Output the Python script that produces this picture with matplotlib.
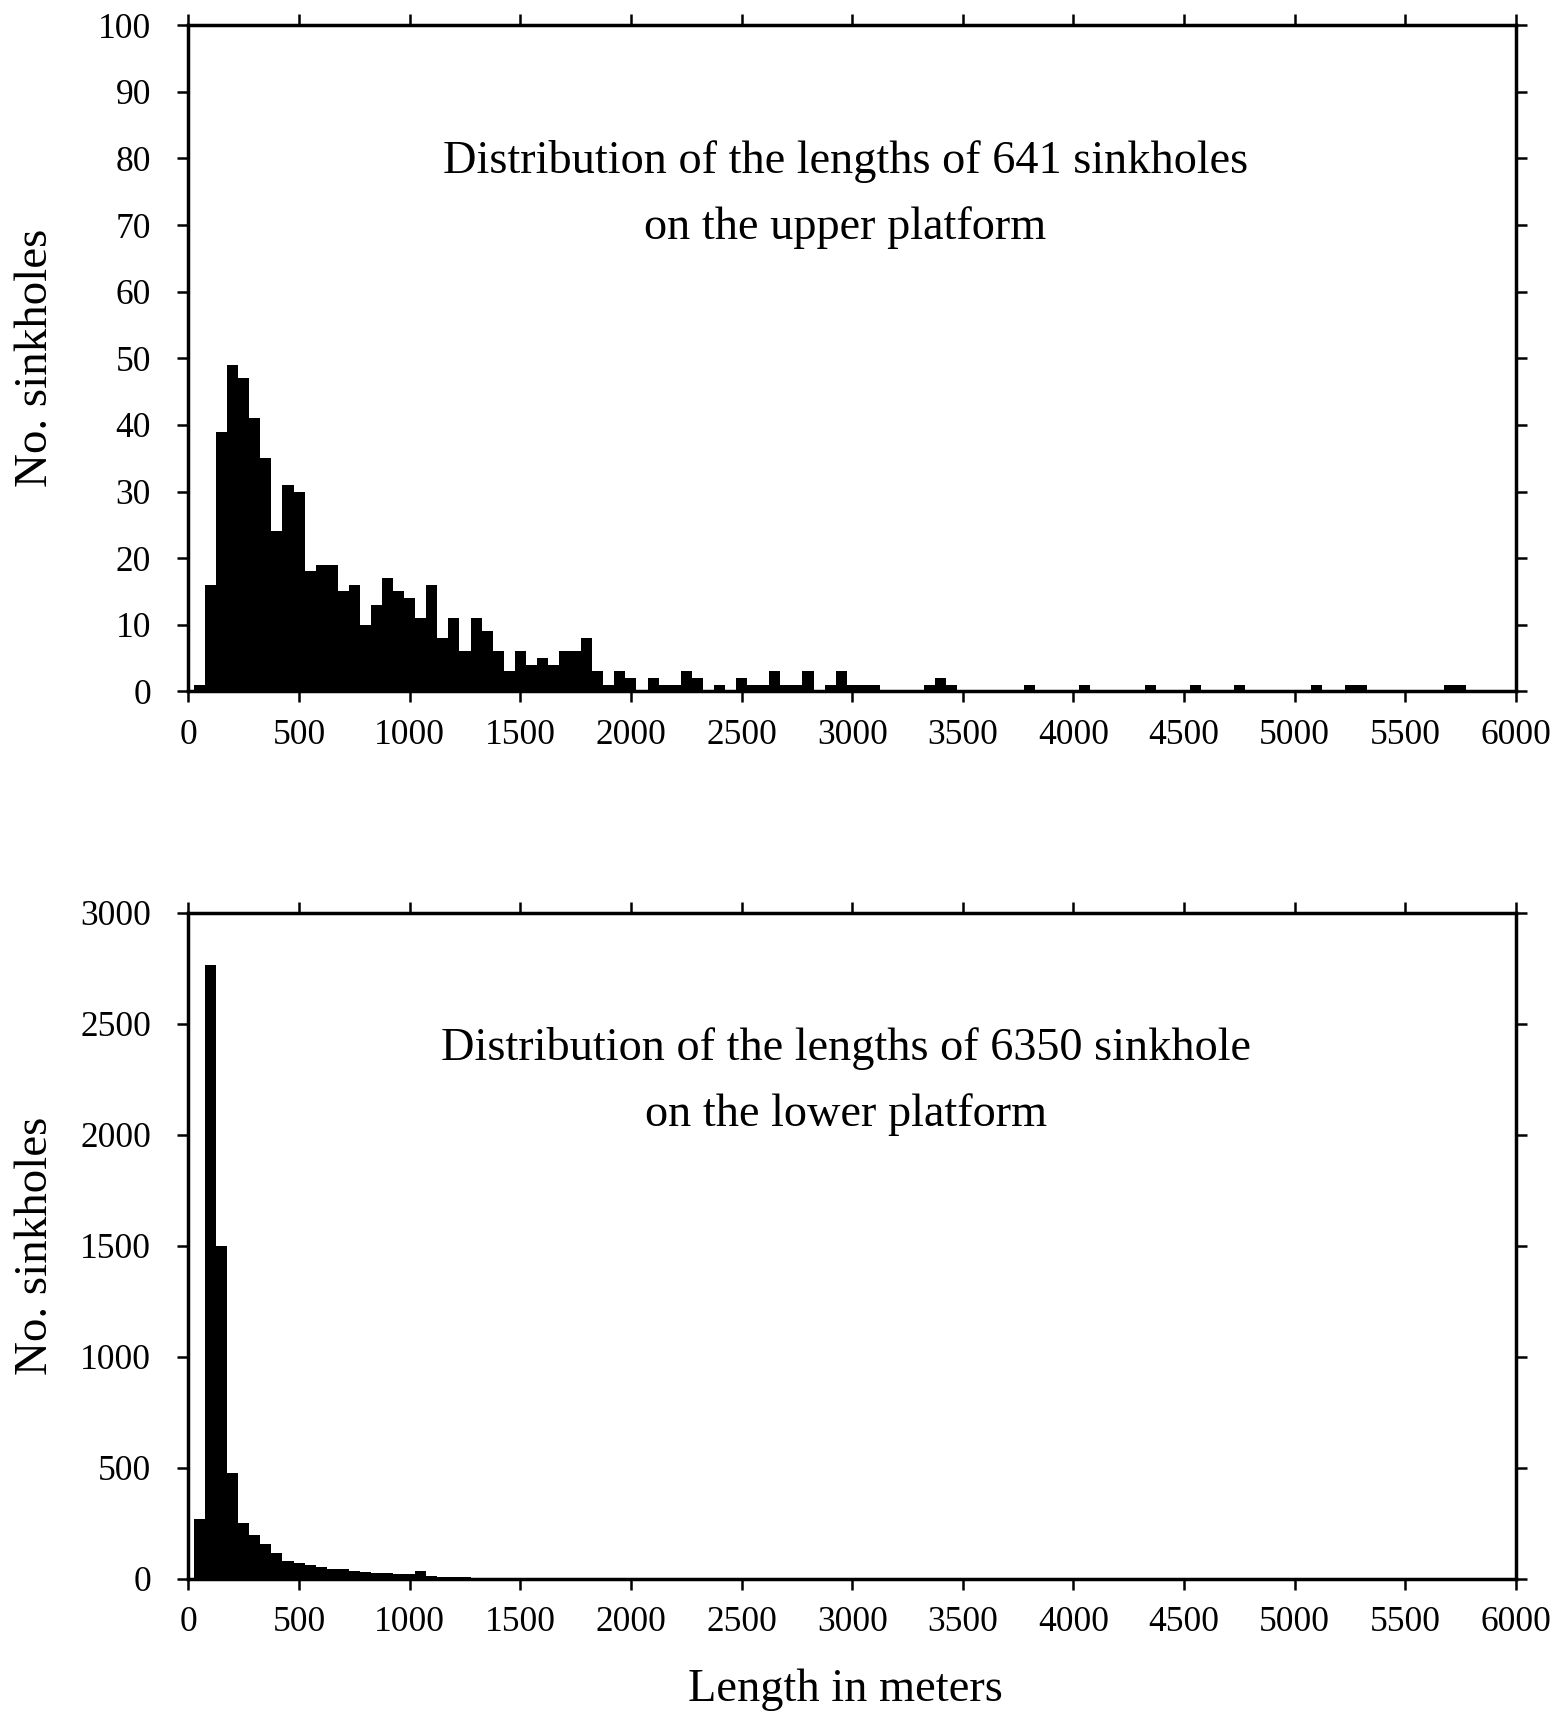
import numpy as np
import matplotlib
matplotlib.use("Agg")
import matplotlib.pyplot as plt

plt.rcParams['font.family'] = ['Liberation Serif', 'DejaVu Serif']

# upper platform: 50 m bins, left edges
upper_edges = [25, 75, 125, 175, 225, 275, 325, 375, 425, 475,
               525, 575, 625, 675, 725, 775, 825, 875, 925, 975,
               1025, 1075, 1125, 1175, 1225, 1275, 1325, 1375, 1425, 1475,
               1525, 1575, 1625, 1675, 1725, 1775, 1825, 1875, 1925, 1975,
               2075, 2125, 2175, 2225, 2275, 2375, 2475, 2525, 2575, 2625,
               2675, 2725, 2775, 2875, 2925, 2975, 3025, 3075, 3325, 3375,
               3425, 3775, 4025, 4325, 4525, 4725, 5075, 5225, 5275, 5675,
               5725]
upper_counts = [1, 16, 39, 49, 47, 41, 35, 24, 31, 30,
                18, 19, 19, 15, 16, 10, 13, 17, 15, 14,
                11, 16, 8, 11, 6, 11, 9, 6, 3, 6,
                4, 5, 4, 6, 6, 8, 3, 1, 3, 2,
                2, 1, 1, 3, 2, 1, 2, 1, 1, 3,
                1, 1, 3, 1, 3, 1, 1, 1, 1, 2,
                1, 1, 1, 1, 1, 1, 1, 1, 1, 1,
                1]

# lower platform
lower_edges = [25, 75, 125, 175, 225, 275, 325, 375, 425, 475,
               525, 575, 625, 675, 725, 775, 825, 875, 925, 975,
               1025, 1075, 1125, 1175, 1225, 1275, 1325, 1375, 1425, 1475,
               1525, 1575, 1625, 1675, 1725, 1775, 1825, 1875, 1925, 2325,
               2775]
lower_counts = [270, 2765, 1500, 476, 252, 197, 156, 117, 81, 72,
                62, 51, 45, 42, 36, 30, 27, 24, 21, 20,
                33, 12, 9, 7, 6, 5, 5, 4, 4, 3,
                3, 3, 2, 2, 2, 2, 1, 1, 1, 1,
                1]

xticks = np.arange(0, 6001, 500)

fig = plt.figure(figsize=(15.6, 17.18), dpi=100)
ax1 = fig.add_axes([0.1208, 0.5976, 0.851, 0.3877])
ax2 = fig.add_axes([0.1208, 0.0811, 0.851, 0.3877])

ax1.bar(upper_edges, upper_counts, width=50, align='edge', color='black', linewidth=0)
ax2.bar(lower_edges, lower_counts, width=50, align='edge', color='black', linewidth=0)

ax1.set_ylim(0, 100)
ax1.set_yticks(np.arange(0, 101, 10))
ax2.set_ylim(0, 3000)
ax2.set_yticks(np.arange(0, 3001, 500))

for ax in (ax1, ax2):
    ax.set_xlim(0, 6000)
    ax.set_xticks(xticks)
    ax.tick_params(direction='out', length=8, width=1.8, labelsize=25.5,
                   top=True, right=True, pad=12)
    ax.tick_params(axis='y', pad=19)
    for s in ax.spines.values():
        s.set_linewidth(2.5)

# panel captions
ax1.text(2970, 79.6, 'Distribution of the lengths of 641 sinkholes',
         ha='center', va='center', fontsize=33.3)
ax1.text(2970, 69.6, 'on the upper platform', ha='center', va='center', fontsize=33.3)
ax2.text(2970, 2388, 'Distribution of the lengths of 6350 sinkhole',
         ha='center', va='center', fontsize=33.3)
ax2.text(2970, 2092, 'on the lower platform', ha='center', va='center', fontsize=33.3)

fig.text(36 / 1560, 1 - 358 / 1718, 'No. sinkholes', rotation=90,
         ha='center', va='center', fontsize=33.8)
fig.text(36 / 1560, 1 - 1245.6 / 1718, 'No. sinkholes', rotation=90,
         ha='center', va='center', fontsize=33.8)
fig.text(845 / 1560, 1 - 1690 / 1718, 'Length in meters',
         ha='center', va='center', fontsize=33.4)

fig.savefig('out.png', dpi=100)
